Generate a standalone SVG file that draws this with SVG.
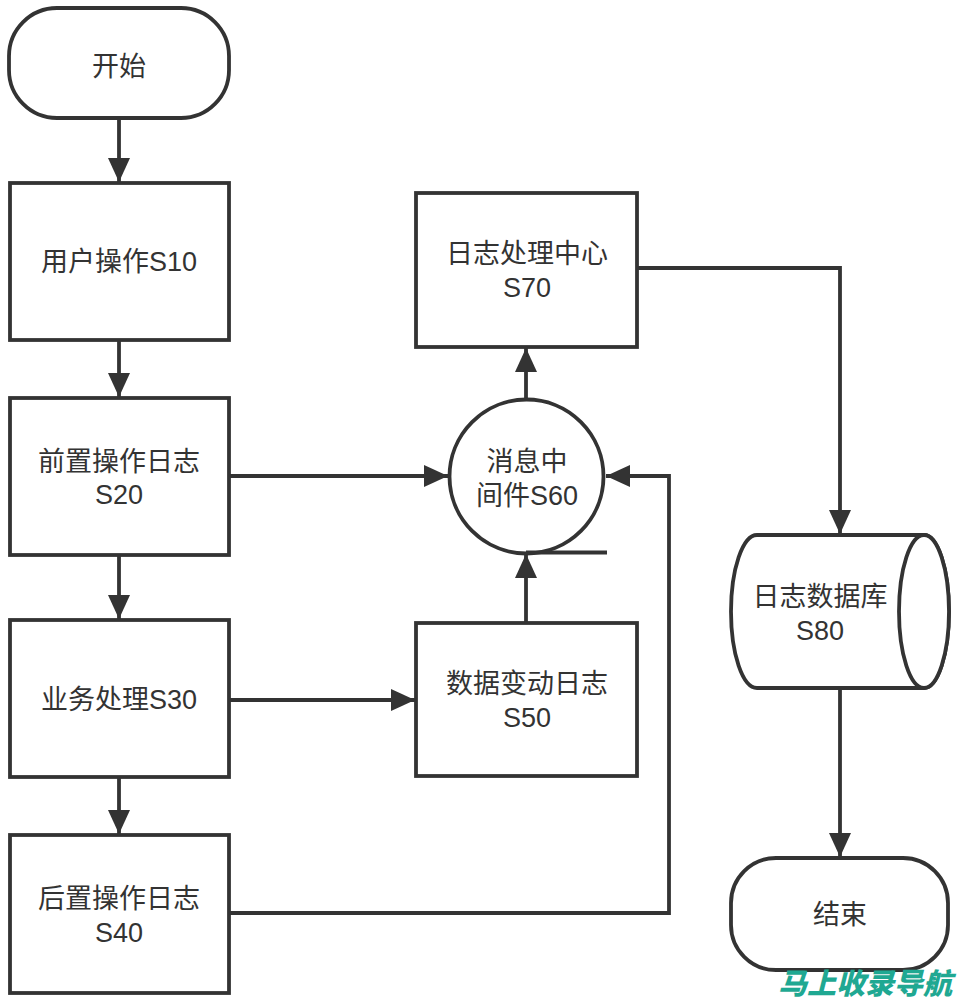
<svg xmlns="http://www.w3.org/2000/svg" width="959" height="1000" viewBox="0 0 959 1000">
<defs>
<marker id="ah" markerWidth="24" markerHeight="22" refX="24" refY="11" orient="auto" markerUnits="userSpaceOnUse">
<path d="M0,0 L24,11 L0,22 Z" fill="#333"/>
</marker>
<style>
.n{fill:#fff;stroke:#333;stroke-width:3.8}
.t{font-family:"Liberation Sans","Noto Sans CJK SC",sans-serif;font-size:27px;fill:#333;text-anchor:middle}
.c{fill:none;stroke:#333;stroke-width:3.8}
</style>
</defs>
<rect width="959" height="1000" fill="#fff"/>
<g id="connectors">
<path class="c" d="M119,118 V182" marker-end="url(#ah)"/>
<path class="c" d="M119,340 V397" marker-end="url(#ah)"/>
<path class="c" d="M119,555 V619" marker-end="url(#ah)"/>
<path class="c" d="M119,777 V834" marker-end="url(#ah)"/>
<path class="c" d="M229,476 H448" marker-end="url(#ah)"/>
<path class="c" d="M229,700 H415" marker-end="url(#ah)"/>
<path class="c" d="M526,623 V554" marker-end="url(#ah)"/>
<path class="c" d="M526,400 V348" marker-end="url(#ah)"/>
<path class="c" d="M229,913 H669 V476 H606" marker-end="url(#ah)"/>
<path class="c" d="M636,268 H840 V534" marker-end="url(#ah)"/>
<path class="c" d="M840,688 V857" marker-end="url(#ah)"/>
</g>
<g id="start">
<rect class="n" x="9" y="8" width="220" height="110" rx="48"/>
<text class="t" x="119" y="76">开始</text>
</g>
<g id="s10">
<rect class="n" x="10" y="183" width="219" height="157"/>
<text class="t" x="119" y="271">用户操作S10</text>
</g>
<g id="s20">
<rect class="n" x="10" y="398" width="219" height="157"/>
<text class="t" x="119" y="471">前置操作日志</text>
<text class="t" x="119" y="504">S20</text>
</g>
<g id="s30">
<rect class="n" x="10" y="620" width="219" height="157"/>
<text class="t" x="119" y="709">业务处理S30</text>
</g>
<g id="s40">
<rect class="n" x="10" y="835" width="219" height="158"/>
<text class="t" x="119" y="908">后置操作日志</text>
<text class="t" x="119" y="942">S40</text>
</g>
<g id="s70">
<rect class="n" x="416" y="193" width="221" height="154"/>
<text class="t" x="527" y="263">日志处理中心</text>
<text class="t" x="527" y="297">S70</text>
</g>
<g id="s60">
<circle class="n" cx="526.5" cy="476.5" r="77"/>
<line x1="526" y1="552.5" x2="607" y2="552.5" stroke="#333" stroke-width="3.8"/>
<text class="t" x="527" y="471">消息中</text>
<text class="t" x="527" y="505">间件S60</text>
</g>
<g id="s50">
<rect class="n" x="416" y="623" width="221" height="153"/>
<text class="t" x="527" y="693">数据变动日志</text>
<text class="t" x="527" y="727">S50</text>
</g>
<g id="s80">
<path class="n" d="M757,535 H924 A25,76.5 0 0 1 924,688 H757 A26,76.5 0 0 1 757,535 Z"/>
<ellipse class="n" cx="924" cy="611.5" rx="25" ry="76.5"/>
<text class="t" x="820" y="606">日志数据库</text>
<text class="t" x="820" y="640">S80</text>
</g>
<g id="end">
<rect class="n" x="731" y="858" width="217" height="112" rx="45"/>
<text class="t" x="840" y="924">结束</text>
</g>
<text x="952" y="994" font-family="'Noto Sans CJK SC',sans-serif" font-size="29" font-weight="900" font-style="italic" fill="#1fa892" text-anchor="end">马上收录导航</text>
</svg>
